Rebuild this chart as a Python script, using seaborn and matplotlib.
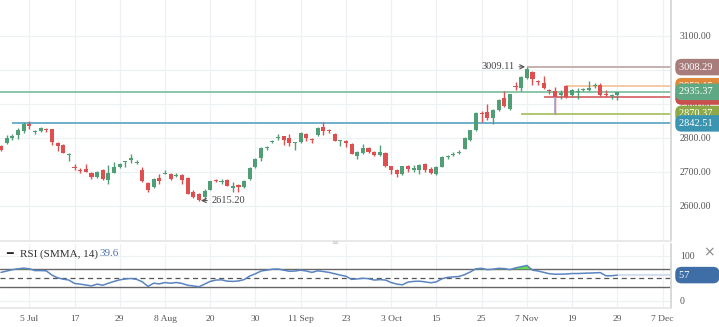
import numpy as np
import pandas as pd
import matplotlib
matplotlib.use("Agg")
import matplotlib.pyplot as plt
import seaborn as sns

# ---------------- data ----------------
first_index = -5
opens = [2775, 2784, 2800, 2809, 2819, 2842, 2816, 2821, 2826, 2825,
         2786, 2780, 2750, 2714, 2705, 2709, 2696, 2686, 2704, 2675,
         2697, 2713, 2728, 2736, 2727, 2706, 2666, 2655, 2681, 2694,
         2694, 2688, 2689, 2682, 2641, 2634, 2625, 2647, 2675, 2670,
         2677, 2651, 2662, 2656, 2679, 2713, 2741, 2770, 2787, 2799,
         2805, 2799, 2784, 2787, 2812, 2795, 2807, 2832, 2822, 2812,
         2792, 2791, 2782, 2746, 2755, 2771, 2758, 2748, 2755, 2716,
         2706, 2694, 2716, 2704, 2706, 2723, 2709, 2693, 2715, 2742,
         2748, 2756, 2768, 2795, 2822, 2874, 2876, 2857, 2881, 2916,
         2886, 2954, 2948, 2975, 2994, 2966, 2962, 2940, 2938, 2926,
         2952, 2927, 2934, 2941, 2940, 2953, 2957, 2929, 2924, 2925]
highs = [2778, 2807, 2810, 2828, 2846, 2849, 2822, 2832, 2830, 2827,
         2787, 2781, 2754, 2723, 2712, 2723, 2700, 2702, 2708, 2720,
         2730, 2727, 2733, 2751, 2735, 2713, 2670, 2682, 2694, 2706,
         2697, 2696, 2694, 2684, 2645, 2638, 2650, 2674, 2679, 2679,
         2680, 2671, 2665, 2675, 2714, 2740, 2772, 2775, 2795, 2810,
         2806, 2811, 2788, 2818, 2814, 2798, 2831, 2846, 2825, 2815,
         2795, 2793, 2785, 2760, 2781, 2774, 2762, 2778, 2758, 2718,
         2708, 2718, 2719, 2720, 2722, 2726, 2713, 2717, 2745, 2748,
         2757, 2765, 2802, 2824, 2875, 2880, 2901, 2885, 2913, 2938,
         2930, 2965, 2982, 3009.11, 2998, 2970, 2982, 2943, 2950, 2940,
         2957, 2943, 2948, 2946, 2967, 2962, 2962, 2940, 2928, 2934]
lows = [2760, 2782, 2794, 2797, 2814, 2827, 2810, 2818, 2818, 2780,
        2760, 2754, 2733, 2704, 2697, 2698, 2680, 2683, 2677, 2664,
        2695, 2710, 2713, 2725, 2723, 2670, 2641, 2653, 2665, 2693,
        2676, 2685, 2664, 2633, 2622, 2615.2, 2618, 2645, 2669, 2664,
        2657, 2639, 2640, 2652, 2677, 2711, 2733, 2765, 2784, 2795,
        2780, 2776, 2765, 2785, 2792, 2785, 2805, 2807, 2813, 2790,
        2776, 2772, 2751, 2737, 2753, 2755, 2745, 2745, 2713, 2694,
        2685, 2690, 2700, 2700, 2694, 2700, 2692, 2690, 2713, 2738,
        2745, 2752, 2766, 2792, 2820, 2847, 2853, 2842, 2878, 2890,
        2883, 2940, 2937, 2972, 2955, 2955, 2945, 2930, 2870.37, 2915,
        2918, 2924, 2913, 2938, 2938, 2948, 2922, 2920, 2915, 2911]
closes = [2765, 2799, 2806, 2822, 2842, 2835, 2821, 2828, 2824, 2789,
          2776, 2756, 2753, 2712, 2703, 2699, 2684, 2699, 2680, 2697,
          2713, 2724, 2731, 2740, 2729, 2672, 2647, 2679, 2672, 2696,
          2678, 2691, 2676, 2635, 2625, 2617, 2644, 2672, 2673, 2672,
          2659, 2657, 2656, 2674, 2712, 2738, 2770, 2773, 2792, 2802,
          2795, 2786, 2786, 2815, 2798, 2793, 2829, 2820, 2819, 2792,
          2794, 2784, 2753, 2758, 2771, 2758, 2748, 2757, 2717, 2706,
          2692, 2716, 2707, 2711, 2720, 2706, 2697, 2715, 2743, 2745,
          2753, 2759, 2800, 2822, 2873, 2871, 2857, 2883, 2911, 2894,
          2928, 2950, 2980, 3004, 2972, 2963, 2948, 2937, 2921, 2932,
          2921, 2940, 2936, 2943, 2948, 2956, 2926, 2926, 2926, 2935.37]
rsi = [63, 66, 69, 71, 72.5, 71, 67, 67, 66.5, 57,
       51, 48, 46, 38.5, 37, 35, 33, 37, 34.5, 39,
       43, 46.5, 48.5, 49.5, 47.5, 42, 32, 39, 37.5, 40.5,
       39, 40.5, 38.5, 34.5, 33, 31, 37, 43, 46, 46.5,
       43.5, 43, 44, 47, 55, 60, 66, 68, 70, 70.5,
       68, 65.5, 66, 68, 66, 63, 66.5, 65, 63, 60,
       57, 54.5, 47.5, 48.5, 50, 49, 46, 47, 46, 40.5,
       37, 35.5, 41.5, 43, 43.5, 42, 40, 42, 49, 52,
       53, 54, 58, 64, 71, 72, 69, 70, 72, 71.5,
       69, 73, 75.5, 78.5, 68, 66, 63, 60, 59, 59,
       59.5, 60.5, 60.5, 61, 61.5, 62, 62.5, 55.5, 55.5, 57]

tick_pos = [0, 8, 16, 24, 32, 40, 48, 56, 64, 72, 80, 88, 96, 104, 112]
tick_labels = ["5 Jul", "17", "29", "8 Aug", "20", "30", "11 Sep", "23",
               "3 Oct", "15", "25", "7 Nov", "19", "29", "7 Dec"]

# horizontal levels: value, start index, line colour, tag colour
level_vals = [3008.29, 2952.15, 2921.58, 2935.37, 2870.37, 2842.51]
level_start = [88, 95, 91, -5.2, 87, -3]
level_line_colors = ["#c4a9a9", "#f2c79e", "#d46a6a", "#7fc3a0", "#a9c466", "#62a9c6"]
level_tag_colors = ["#a97c7c", "#e0883a", "#c94f4f", "#5ea884", "#8da847", "#3b95b1"]
marked_idx = 93  # candle whose lower wick is the lavender drop line

high_label = "3009.11"
low_label = "2615.20"

rsi_last = 57
rsi_label = "RSI (SMMA, 14)"
rsi_hover = "39.6"

# ---------------- figure ----------------
W, H = 719, 327
sns.set_theme(style="white")
plt.rcParams['font.family'] = ['Liberation Serif', 'DejaVu Sans']

df = pd.DataFrame({"o": opens, "h": highs, "l": lows, "c": closes, "rsi": rsi})
df["i"] = np.arange(len(df)) + first_index
up = df["c"] >= df["o"]
GREEN, RED = "#4f9e76", "#e04f4f"
df["col"] = np.where(up, GREEN, RED)

fig = plt.figure(figsize=(W / 100, H / 100), dpi=100)
ax = fig.add_axes([0, (H - 241) / H, 671 / W, 241 / H])
ax2 = fig.add_axes([0, (H - 308) / H, 671 / W, 64 / H])

XMIN, XMAX = -5.18, 113.5
for a in (ax, ax2):
    a.set_xlim(XMIN, XMAX)
    a.set_xticks(tick_pos)
    a.grid(True, color="#eef1f4", lw=0.9)
    a.set_axisbelow(True)
    for s in ("left", "top"):
        a.spines[s].set_visible(False)
    a.spines["right"].set_color("#d4d4d4")
    a.spines["bottom"].set_color("#e6e6e6")
    a.yaxis.tick_right()

ax.set_ylim(2496, 3206)
ax.set_yticks([2600, 2700, 2800, 2900, 3000, 3100])
ax.set_yticklabels([f"{v:.2f}" for v in [2600, 2700, 2800, 2900, 3000, 3100]])
ax.tick_params(axis="y", length=0, pad=6.5, labelsize=7, labelcolor="#555555")
ax.tick_params(axis="x", length=0, labelbottom=False)

# candles
ax.vlines(df["i"], df["l"], df["h"], colors=df["col"], lw=1, zorder=3)
body = (df["c"] - df["o"]).abs().clip(lower=2.5)
ax.bar(df["i"], body, bottom=np.minimum(df["o"], df["c"]), width=0.72,
       color=df["col"], edgecolor="none", zorder=4)
m = df[df["i"] == marked_idx].iloc[0]
ax.vlines(m["i"], m["l"], min(m["o"], m["c"]), colors="#aaa6d6", lw=1.2, zorder=3)

# horizontal levels
for v, s, lc in zip(level_vals, level_start, level_line_colors):
    ax.hlines(v, s, XMAX, colors=lc, lw=1.3, zorder=2)

# annotations
ax.annotate(high_label, xy=(87.7, 3009.11), xytext=(85.8, 3009.11),
            ha="right", va="center", fontsize=7.5, color="#444444",
            arrowprops=dict(arrowstyle="->", color="#555555", lw=0.8,
                            shrinkA=1, shrinkB=0), zorder=6)
ax.annotate(low_label, xy=(30.35, 2615.2), xytext=(32.3, 2615.2),
            ha="left", va="center", fontsize=7.5, color="#444444",
            arrowprops=dict(arrowstyle="->", color="#555555", lw=0.8,
                            shrinkA=1, shrinkB=0), zorder=6)

# right-side tags
ytr = ax.get_yaxis_transform()
for k, (v, tc) in enumerate(zip(level_vals, level_tag_colors)):
    z = 7 if k in (3, 5) else 6
    ax.text(1.0 + 8 / 671, v, f"{v:.2f}    ", transform=ytr, ha="left", va="center",
            fontsize=7.5, color="white", clip_on=False, zorder=z,
            bbox=dict(boxstyle="round,pad=0.36,rounding_size=0.6", fc=tc, ec="none"))

# ---------------- RSI panel ----------------
ax2.set_ylim(-16, 126)
ax2.set_yticks([0, 100])
ax2.set_yticklabels(["0", "100"])
ax2.tick_params(axis="y", length=0, pad=6.5, labelsize=7, labelcolor="#555555")
ax2.set_xticklabels(tick_labels)
ax2.tick_params(axis="x", length=0, pad=5, labelsize=6.8, labelcolor="#555555")

ax2.axhline(70, color="#666666", lw=1)
ax2.axhline(30, color="#666666", lw=1)
ax2.axhline(50, color="#555555", lw=0.9, ls=(0, (4, 3)))
r = df["rsi"].to_numpy()
ax2.fill_between(df["i"], r, 70, where=r > 70, interpolate=True,
                 color="#66dd55", lw=0, zorder=2)
ax2.hlines(rsi_last, df["i"].iloc[-1], XMAX, colors="#d3dfee", lw=1.6, zorder=2)
sns.lineplot(x=df["i"], y=df["rsi"], ax=ax2, color="#5a84c2", lw=1.1, zorder=3)
ax2.set_xlabel("")
ax2.set_ylabel("")
ytr2 = ax2.get_yaxis_transform()
ax2.text(1.0 + 8 / 671, rsi_last, f"{rsi_last}          ", transform=ytr2, ha="left",
         va="center", fontsize=7.5, color="white", clip_on=False, zorder=6,
         bbox=dict(boxstyle="round,pad=0.36,rounding_size=0.6", fc="#3f6ea6", ec="none"))

fig.text(6 / W, 1 - 254 / H, "━", fontsize=8, color="#222222", va="center",
         family=["DejaVu Sans"], fontweight="bold")
fig.text(20 / W, 1 - 254 / H, rsi_label, fontsize=8, color="#333333", va="center")
fig.text(100 / W, 1 - 254 / H, rsi_hover, fontsize=8, color="#4f74b0", va="center")
fig.text(709 / W, 1 - 252 / H, "×", fontsize=10, color="#888888", va="center",
         ha="center", family=["DejaVu Sans"])
fig.text(335 / W, 1 - 243 / H, "≡", fontsize=6, color="#c8c8c8", va="center",
         ha="center", family=["DejaVu Sans"])

fig.savefig("out.png", dpi=100, facecolor="white")
